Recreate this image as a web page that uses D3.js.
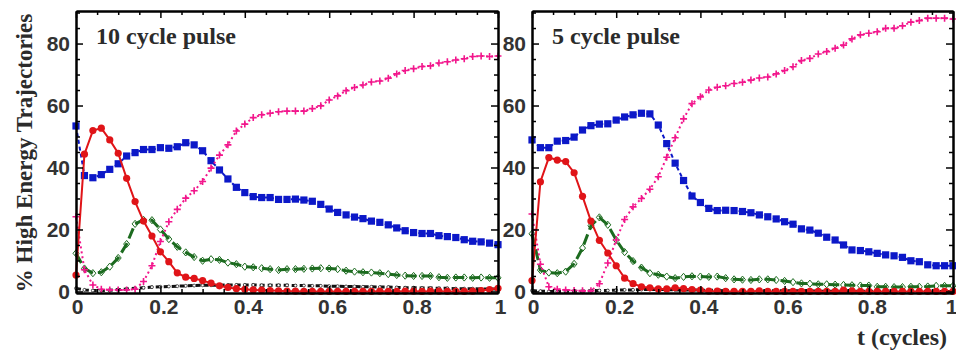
<!DOCTYPE html>
<html>
<head>
<meta charset="utf-8">
<script src="https://cdn.jsdelivr.net/npm/d3@7"></script>
<style>
  body { margin: 0; background: #fff; }
  svg { display: block; }
  .tick text { font-family: "Liberation Sans", Arial, sans-serif; font-weight: bold; fill: #333; }
  .serif { font-family: "Liberation Serif", "Times New Roman", serif; font-weight: bold; fill: #2b2b2b; }
</style>
</head>
<body>
<svg id="chart" width="956" height="354"></svg>
<script>
// time samples (cycles)
const tCycles = [0, 0.02, 0.04, 0.06, 0.08, 0.1, 0.12, 0.14, 0.16, 0.18,
  0.2, 0.22, 0.24, 0.26, 0.28, 0.3, 0.32, 0.34, 0.36, 0.38,
  0.4, 0.42, 0.44, 0.46, 0.48, 0.5, 0.52, 0.54, 0.56, 0.58,
  0.6, 0.62, 0.64, 0.66, 0.68, 0.7, 0.72, 0.74, 0.76, 0.78,
  0.8, 0.82, 0.84, 0.86, 0.88, 0.9, 0.92, 0.94, 0.96, 0.98, 1];

const xTicks = [0, 0.2, 0.4, 0.6, 0.8, 1];
const xMinor = [0.05, 0.1, 0.15, 0.25, 0.3, 0.35, 0.45, 0.5, 0.55, 0.65, 0.7, 0.75, 0.85, 0.9, 0.95];
const yTicks = [0, 20, 40, 60, 80];
const yMinor = [5, 10, 15, 25, 30, 35, 45, 50, 55, 65, 70, 75, 85, 90];

// 10 cycle pulse
const blue10 = [53.4, 37.4, 36.7, 37.7, 39.4, 41.2, 43.7, 44.8, 45.8, 45.8,
  46.4, 46.2, 46.7, 48.0, 47.3, 45.4, 42.2, 39.2, 36.3, 33.6,
  31.9, 30.6, 30.3, 30.3, 29.7, 29.7, 29.8, 29.5, 29.1, 28.1,
  26.6, 25.5, 24.7, 24.0, 23.5, 22.7, 22.3, 21.5, 20.5, 19.6,
  19.0, 18.7, 18.7, 18.0, 17.7, 17.4, 16.7, 16.2, 16.0, 15.6, 15.1];
const red10 = [5.3, 44.3, 51.9, 52.7, 48.9, 44.6, 36.5, 29.0, 22.7, 17.9,
  12.8, 9.6, 6.0, 4.6, 4.2, 3.5, 2.7, 1.8, 1.3, 0.9,
  0.7, 0.5, 0.4, 0.3, 0.2, 0.1, 0.1, 0.0, 0.0, 0.0,
  0.0, 0.0, 0.0, 0.0, 0.0, 0.0, 0.1, 0.0, 0.0, 0.1,
  0.1, 0.0, 0.1, 0.1, 0.0, 0.0, 0.0, 0.1, 0.3, 0.6, 1.0];
const pink10 = [24.1, 7.0, 2.1, 0.7, 0.5, 0.5, 0.5, 0.7, 3.2, 8.3,
  16.1, 22.5, 26.5, 30.1, 32.5, 35.5, 39.8, 44.0, 47.3, 51.8,
  54.0, 56.1, 57.0, 57.5, 58.0, 58.2, 58.2, 58.2, 59.0, 59.9,
  61.8, 63.1, 64.8, 65.8, 66.6, 67.6, 67.9, 68.8, 70.2, 71.3,
  71.9, 72.6, 72.8, 73.7, 74.1, 74.7, 75.1, 75.8, 76.0, 75.8, 76.0];
const green10 = [12.3, 7.4, 5.9, 6.2, 8.0, 10.8, 15.3, 21.8, 23.1, 23.0,
  20.0, 16.9, 14.4, 12.6, 11.1, 9.9, 10.4, 10.2, 9.3, 8.8,
  8.0, 7.8, 7.5, 7.2, 6.9, 7.2, 7.2, 7.3, 7.4, 7.5,
  7.4, 7.2, 6.7, 6.4, 6.2, 6.1, 5.9, 5.6, 5.3, 5.1,
  5.0, 5.0, 5.0, 4.6, 4.4, 4.5, 4.5, 4.4, 4.5, 4.4, 4.4];
const black10 = [1.0, 0.5, 0.3, 0.3, 0.4, 0.6, 0.8, 1.0, 1.2, 1.4,
  1.5, 1.6, 1.7, 1.8, 1.9, 2.0, 2.0, 2.0, 2.1, 2.1,
  2.1, 2.1, 2.0, 2.0, 2.0, 2.0, 1.9, 1.9, 1.8, 1.8,
  1.7, 1.7, 1.6, 1.6, 1.5, 1.5, 1.4, 1.4, 1.3, 1.2,
  1.2, 1.1, 1.1, 1.0, 1.0, 0.9, 0.9, 0.9, 0.8, 0.8, 0.8];

// 5 cycle pulse
const blue5 = [48.9, 46.4, 46.4, 48.5, 48.7, 49.8, 52.1, 53.5, 54.0, 54.1,
  55.3, 56.3, 57.0, 57.5, 57.3, 53.7, 47.7, 41.4, 35.8, 30.8,
  28.7, 26.8, 26.1, 26.2, 26.1, 25.8, 25.4, 24.7, 24.1, 23.4,
  22.5, 21.7, 20.2, 19.8, 18.8, 17.5, 16.6, 15.0, 13.4, 13.2,
  12.8, 12.3, 11.8, 11.5, 11.0, 9.9, 9.6, 8.6, 8.3, 8.3, 8.3];
const red5 = [3.5, 35.4, 43.2, 42.4, 41.9, 38.3, 30.7, 22.7, 16.5, 12.4,
  8.3, 4.3, 2.5, 1.5, 1.2, 0.8, 0.8, 1.2, 0.9, 0.6,
  0.4, 0.1, 0.1, 0.0, 0.0, 0.0, 0.0, 0.2, 0.0, 0.0,
  0.0, 0.0, 0.0, 0.0, 0.0, 0.0, 0.0, 0.4, 0.2, 0.0,
  0.0, 0.0, 0.0, 0.0, 0.0, 0.0, 0.0, 0.0, 0.0, 0.0, 0.0];
const pink5 = [25.0, 8.8, 1.5, 0.7, 0.5, 0.3, 0.2, 0.2, 2.5, 9.2,
  16.6, 23.2, 27.3, 30.0, 33.0, 37.0, 43.3, 49.6, 55.7, 60.6,
  62.8, 65.0, 65.9, 66.4, 67.1, 67.5, 68.2, 68.9, 69.2, 70.2,
  71.3, 72.5, 74.5, 75.2, 76.6, 77.4, 78.5, 79.5, 81.5, 82.8,
  83.3, 83.8, 84.9, 84.9, 85.7, 86.9, 87.4, 88.2, 88.2, 88.2, 87.9];
const green5 = [18.6, 6.9, 6.1, 5.9, 6.4, 8.9, 14.0, 21.2, 23.9, 21.5,
  16.6, 12.7, 9.8, 7.7, 5.9, 5.4, 4.8, 4.3, 4.7, 4.9,
  4.8, 4.7, 4.8, 4.3, 3.9, 3.8, 3.7, 3.9, 3.9, 3.7,
  3.4, 3.0, 2.6, 2.5, 2.3, 2.3, 2.2, 2.1, 2.0, 1.9,
  1.9, 1.5, 1.5, 1.4, 1.4, 1.5, 1.5, 1.6, 1.8, 1.8, 1.8];
const black5 = [0.3, 0.1, 0.0, 0.0, 0.0, 0.1, 0.1, 0.2, 0.3, 0.3,
  0.4, 0.5, 0.5, 0.6, 0.6, 0.6, 0.6, 0.5, 0.5, 0.5,
  0.4, 0.4, 0.4, 0.3, 0.3, 0.3, 0.3, 0.3, 0.2, 0.2,
  0.2, 0.2, 0.2, 0.2, 0.1, 0.1, 0.1, 0.1, 0.1, 0.1,
  0.1, 0.1, 0.1, 0.0, 0.0, 0.0, 0.0, 0.0, 0.0, 0.0, 0.0];

const panelTitles = ["10 cycle pulse", "5 cycle pulse"];

// look of each series, drawn in this order
const seriesStyle = [
  { key: "black", color: "#111", width: 3, dash: "5,3", marker: "ring" },
  { key: "green", color: "#1c6b1f", width: 3, dash: "11,5", marker: "diamond" },
  { key: "blue", color: "#0c18c8", width: 2, dash: "4,3", marker: "square" },
  { key: "pink", color: "#f2168c", width: 2, dash: "2,3", marker: "plus" },
  { key: "red", color: "#e01418", width: 2, dash: null, marker: "circle" }
];

const panels = [
  { x0: 76, x1: 498, title: panelTitles[0],
    data: { blue: blue10, red: red10, pink: pink10, green: green10, black: black10 } },
  { x0: 532, x1: 953, title: panelTitles[1],
    data: { blue: blue5, red: red5, pink: pink5, green: green5, black: black5 } }
];

const plotTop = 11, plotBottom = 293;
const svg = d3.select("#chart");

function drawMarkers(g, pts, s) {
  let sel = g.selectAll("m").data(pts).enter();
  if (s.marker == "square") {
    sel.append("rect").attr("x", d => d[0] - 3.6).attr("y", d => d[1] - 3.6)
      .attr("width", 7.2).attr("height", 7.2).attr("fill", s.color);
  } else if (s.marker == "circle") {
    sel.append("circle").attr("cx", d => d[0]).attr("cy", d => d[1])
      .attr("r", 3.6).attr("fill", s.color);
  } else if (s.marker == "plus") {
    sel.append("path").attr("d", d => `M${d[0] - 3.5},${d[1]}h7M${d[0]},${d[1] - 3.5}v7`)
      .attr("stroke", s.color).attr("stroke-width", 1.6);
  } else if (s.marker == "diamond") {
    sel.append("path").attr("d", d => `M${d[0]},${d[1] - 3.6}l3,3.6l-3,3.6l-3,-3.6z`)
      .attr("fill", "#fff").attr("stroke", s.color).attr("stroke-width", 1);
  } else if (s.marker == "ring") {
    sel.append("circle").attr("cx", d => d[0]).attr("cy", d => d[1])
      .attr("r", 1.5).attr("fill", "#fff").attr("stroke", s.color).attr("stroke-width", 0.7);
  }
}

function drawPanel(p) {
  let x = d3.scaleLinear().domain([0, 1]).range([p.x0, p.x1]);
  let y = d3.scaleLinear().domain([-0.5, 90.5]).range([plotBottom, plotTop]);
  let g = svg.append("g");

  // series
  seriesStyle.forEach(s => {
    let pts = tCycles.map((t, i) => [x(t), y(p.data[s.key][i])]);
    let line = d3.line();
    let sg = g.append("g");
    if (s.marker == "diamond") drawMarkers(sg, pts, s);
    let path = sg.append("path").attr("d", line(pts)).attr("fill", "none")
      .attr("stroke", s.color).attr("stroke-width", s.width);
    if (s.dash) path.attr("stroke-dasharray", s.dash);
    if (s.marker != "diamond") drawMarkers(sg, pts, s);
  });

  // axes, all ticks pointing inward
  let axes = [
    [d3.axisBottom(x).tickValues(xTicks).tickFormat(d3.format("~g")), `translate(0,${plotBottom})`, true],
    [d3.axisBottom(x).tickValues(xMinor).tickFormat(""), `translate(0,${plotBottom})`, false],
    [d3.axisTop(x).tickValues(xTicks).tickFormat(""), `translate(0,${plotTop})`, true],
    [d3.axisTop(x).tickValues(xMinor).tickFormat(""), `translate(0,${plotTop})`, false],
    [d3.axisLeft(y).tickValues(yTicks), `translate(${p.x0},0)`, true],
    [d3.axisLeft(y).tickValues(yMinor).tickFormat(""), `translate(${p.x0},0)`, false],
    [d3.axisRight(y).tickValues(yTicks).tickFormat(""), `translate(${p.x1},0)`, true],
    [d3.axisRight(y).tickValues(yMinor).tickFormat(""), `translate(${p.x1},0)`, false]
  ];
  axes.forEach(([ax, tr, major], i) => {
    ax.tickSize(major ? -7 : -4).tickSizeOuter(0).tickPadding(major ? 6 : 0);
    let ag = g.append("g").attr("transform", tr).call(ax);
    ag.select(".domain").attr("stroke", "#000").attr("stroke-width", 2);
    ag.selectAll(".tick line").attr("stroke", "#000").attr("stroke-width", 1.5);
    // decimal labels sit a little right of their ticks; keep the last "1" inside
    if (i == 0) ag.selectAll(".tick text")
      .attr("dx", d => d == 1 ? (p.x1 > 900 ? -2 : 2) : (d == 0 ? 1 : 3));
  });
  g.selectAll(".tick text").attr("font-size", 21);

  g.append("text").attr("class", "serif").attr("x", p.x0 + 20).attr("y", 44)
    .attr("font-size", 24).text(p.title);
}

panels.forEach(drawPanel);

svg.append("text").attr("class", "serif")
  .attr("transform", "translate(32,153) rotate(-90)")
  .attr("text-anchor", "middle").attr("font-size", 23)
  .text("% High Energy Trajectories");

svg.append("text").attr("class", "serif")
  .attr("x", 947).attr("y", 345).attr("text-anchor", "end")
  .attr("font-size", 24).text("t (cycles)");
</script>
</body>
</html>
